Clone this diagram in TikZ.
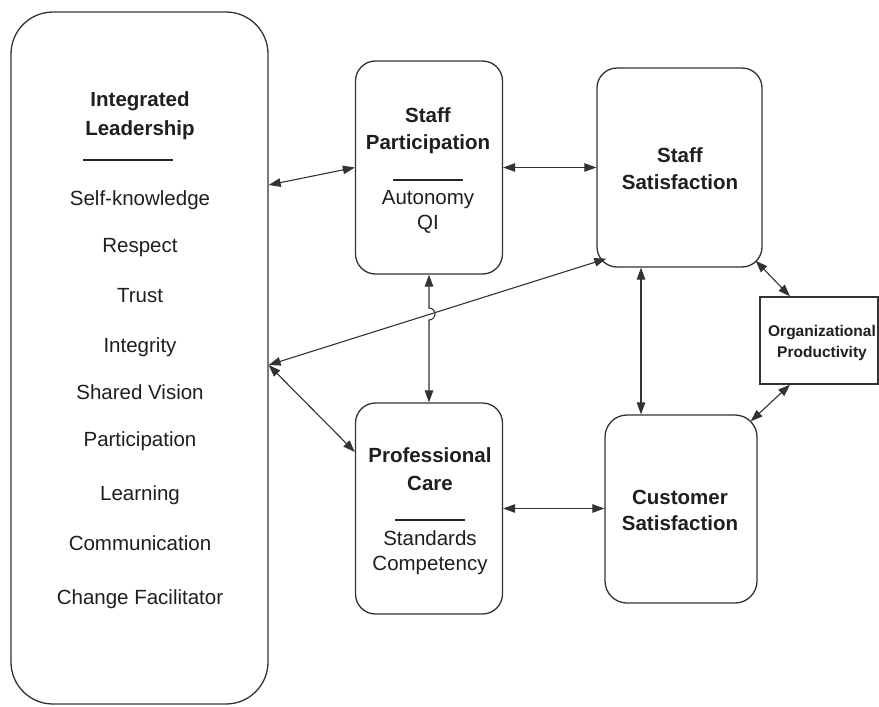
\documentclass[tikz,border=0pt]{standalone}
\usepackage{fontspec}
\setmainfont{Liberation Sans}
\usetikzlibrary{arrows.meta,calc}
\begin{document}
\begin{tikzpicture}[x=1pt,y=-1pt,
  box/.style={draw=black!80, line width=1.3pt, inner sep=0pt},
  ttl/.style={font=\fontsize{20.5}{24}\selectfont\bfseries, text=black!88, inner sep=0pt, anchor=base},
  itm/.style={font=\fontsize{20.5}{24}\selectfont, text=black!88, inner sep=0pt, anchor=base},
  small/.style={font=\fontsize{15.5}{18}\selectfont\bfseries, text=black!88, inner sep=0pt, anchor=base},
  rul/.style={draw=black!85, line width=1.1pt},
  conn/.style={draw=black!80, line width=1.1pt, {Triangle[length=12pt,width=8.5pt]}-{Triangle[length=12pt,width=8.5pt]}}
]
\useasboundingbox (0,0) rectangle (879,707);
\fill[white] (0,0) rectangle (879,707);

% boxes
\node[box, rounded corners=42pt, minimum width=257pt, minimum height=692pt] (lead) at (139.5,358) {};
\node[box, rounded corners=20pt, minimum width=147pt, minimum height=213pt] (sp) at (429,167.5) {};
\node[box, rounded corners=20pt, minimum width=165pt, minimum height=199pt] (ss) at (679.5,167.5) {};
\node[box, rounded corners=20pt, minimum width=147pt, minimum height=211pt] (pc) at (429,508.5) {};
\node[box, rounded corners=22pt, minimum width=152pt, minimum height=188pt] (cs) at (681,509) {};
\node[box, minimum width=118pt, minimum height=87pt] (op) at (819,340.5) {};

% left box texts
\node[ttl] (l1) at (140,106) {Integrated};
\node[ttl] (l2) at (140,135) {Leadership};
\draw[rul] (83,160) -- (173,160);
\node[itm] (l3) at (140,205) {Self-knowledge};
\node[itm] (l4) at (140,252) {Respect};
\node[itm] (l5) at (140,302) {Trust};
\node[itm] (l6) at (140,352) {Integrity};
\node[itm] (l7) at (140,399) {Shared Vision};
\node[itm] (l8) at (140,446) {Participation};
\node[itm] (l9) at (140,500) {Learning};
\node[itm] (l10) at (140,550) {Communication};
\node[itm] (l11) at (140,604) {Change Facilitator};

% staff participation
\node[ttl] (sp1) at (428,122) {Staff};
\node[ttl] (sp2) at (428,149) {Participation};
\draw[rul] (393,180) -- (463,180);
\node[itm] (sp3) at (428,204) {Autonomy};
\node[itm] (sp4) at (428,229) {QI};

% staff satisfaction
\node[ttl] (ss1) at (680,162) {Staff};
\node[ttl] (ss2) at (680,189) {Satisfaction};

% professional care
\node[ttl] (pc1) at (430,462) {Professional};
\node[ttl] (pc2) at (430,490) {Care};
\draw[rul] (395,520) -- (465,520);
\node[itm] (pc3) at (430,545) {Standards};
\node[itm] (pc4) at (430,570) {Competency};

% customer satisfaction
\node[ttl] (cs1) at (680,504) {Customer};
\node[ttl] (cs2) at (680,530) {Satisfaction};

% organizational productivity
\node[small] (op1) at (822,336) {Organizational};
\node[small] (op2) at (822,357) {Productivity};

% connectors
\coordinate (v) at (641,0);
\coordinate (w) at (790,0);
\draw[conn] (sp.west) -- (lead.east |- 0,185);
\draw[conn] (sp.east) -- (ss.west);
\draw[conn] ([xshift=10pt,yshift=9pt]ss.south west) -- (lead.east |- 0,365);
\draw[conn] (lead.east |- 0,365) -- (pc.west |- 0,452);
\draw[conn] (sp.south) -- (429,308) arc[start angle=90, end angle=-90, radius=6pt] -- (pc.north);
\draw[conn] (pc.east) -- (cs.west |- pc.east);
\draw[conn] (ss.south -| v) -- (cs.north -| v);
\draw[conn] ([xshift=-7pt,yshift=7pt]ss.south east) -- (op.north -| w);
\draw[conn] (op.south -| w) -- ([xshift=-7pt,yshift=-7pt]cs.north east);
\end{tikzpicture}
\end{document}
